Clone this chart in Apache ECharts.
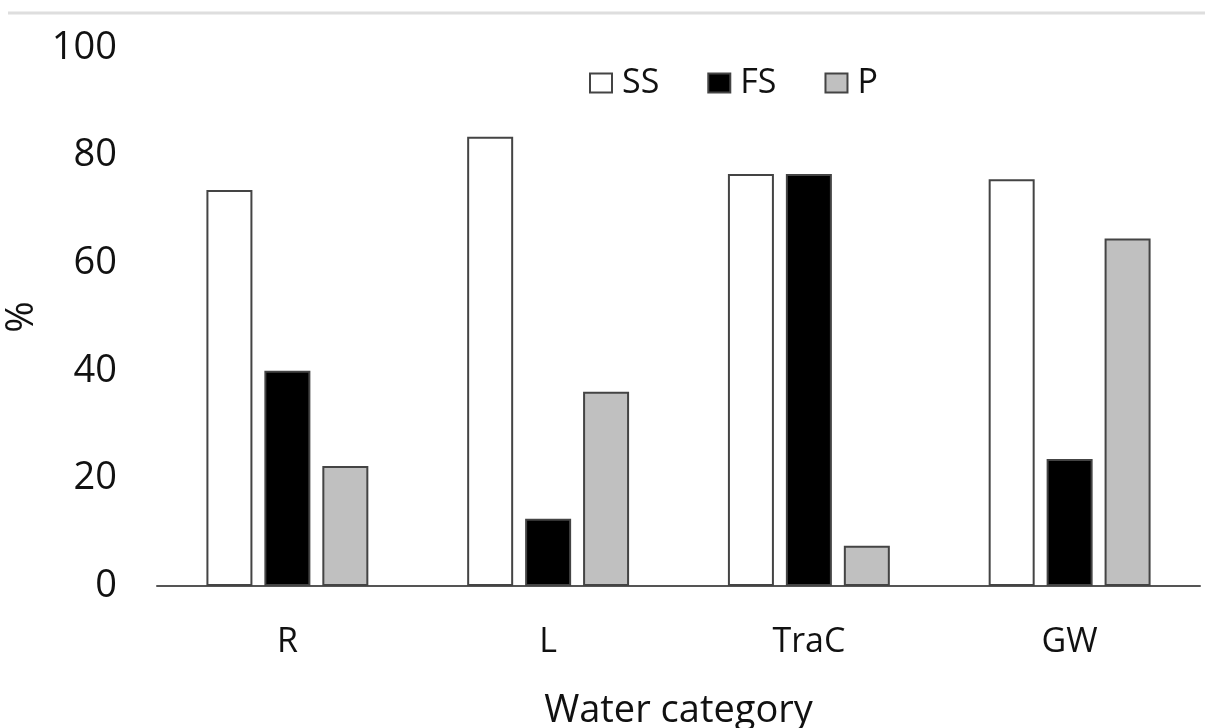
<!DOCTYPE html>
<html>
<head>
<meta charset="utf-8">
<style>
  html, body { margin: 0; padding: 0; background: #fff; }
  #main { width: 1205px; height: 728px; }
</style>
<script src="https://cdn.jsdelivr.net/npm/echarts@6/dist/echarts.min.js"></script>
</head>
<body>
<div id="main"></div>
<script>
const categories = ['R', 'L', 'TraC', 'GW'];
const seriesNames = ['SS', 'FS', 'P'];
const ssValues = [73.6, 83.5, 76.6, 75.6];
const fsValues = [40.0, 12.5, 76.6, 23.6];
const pValues = [22.3, 36.1, 7.5, 64.6];
const yTicks = [0, 20, 40, 60, 80, 100];

const FONT = '"Open Sans", sans-serif';
const chart = echarts.init(document.getElementById('main'), null, { renderer: 'canvas' });

const barStyle = (fill) => ({ color: fill, borderColor: '#444444', borderWidth: 2 });

chart.setOption({
  animation: false,
  backgroundColor: '#ffffff',
  textStyle: { fontFamily: FONT, color: '#111' },
  graphic: [{
    type: 'line',
    shape: { x1: 8, y1: 13, x2: 1205, y2: 13 },
    style: { stroke: '#dedede', lineWidth: 3 }
  }],
  legend: {
    left: 589, top: 66,
    padding: 0,
    icon: 'rect',
    itemWidth: 22, itemHeight: 19,
    itemGap: 48,
    textStyle: { fontFamily: FONT, fontSize: 34, color: '#111', padding: [0, 0, 0, 5] },
    data: seriesNames
  },
  grid: { left: 157, right: 5, top: 48, bottom: 142, containLabel: false, outerBoundsMode: 'none' },
  xAxis: {
    type: 'category',
    data: categories,
    axisLine: { show: true, lineStyle: { color: '#555555', width: 2 } },
    axisTick: { show: false },
    axisLabel: { fontFamily: FONT, fontSize: 34, color: '#111', margin: 39 },
    name: 'Water category',
    nameLocation: 'middle',
    nameGap: 106,
    nameTextStyle: { fontFamily: FONT, fontSize: 38, color: '#111' }
  },
  yAxis: {
    type: 'value',
    min: yTicks[0], max: yTicks[yTicks.length - 1], interval: 20,
    axisLine: { show: false },
    axisTick: { show: false },
    splitLine: { show: false },
    axisLabel: { fontFamily: FONT, fontSize: 38, color: '#111', margin: 40 },
    name: '%',
    nameLocation: 'middle',
    nameRotate: 90,
    nameGap: 110,
    nameTextStyle: { fontFamily: FONT, fontSize: 38, color: '#111' }
  },
  series: [
    { name: 'SS', type: 'bar', data: ssValues, barWidth: 46, barGap: '26%', itemStyle: barStyle('#ffffff') },
    { name: 'FS', type: 'bar', data: fsValues, barWidth: 46, barGap: '26%', itemStyle: barStyle('#000000') },
    { name: 'P', type: 'bar', data: pValues, barWidth: 46, barGap: '26%', itemStyle: barStyle('#c0c0c0') }
  ]
});
</script>
</body>
</html>
